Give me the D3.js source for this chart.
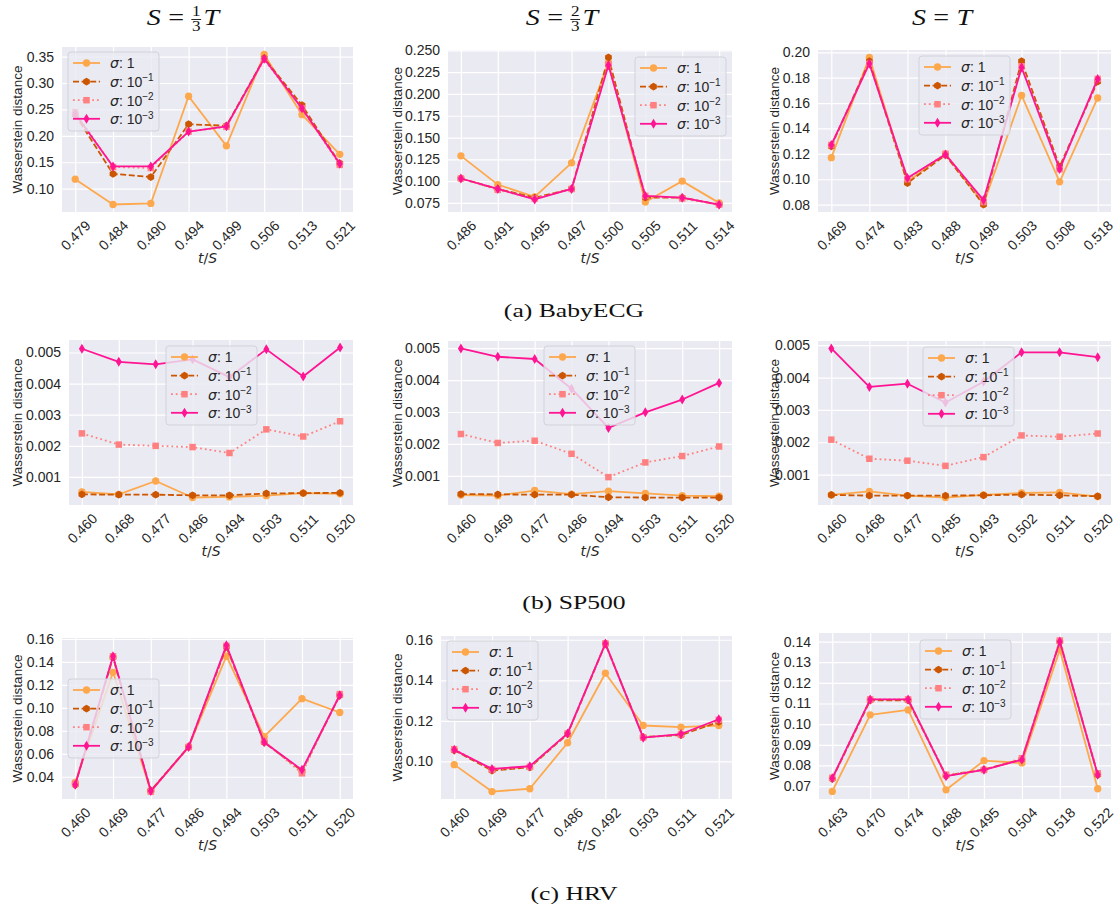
<!DOCTYPE html>
<html><head><meta charset="utf-8">
<script src="https://cdn.jsdelivr.net/npm/d3@7"></script>
<style>body{margin:0;background:#fff} svg{display:block}</style>
</head><body><svg id="c" width="1120" height="916"></svg>
<script>
// ---------- data ----------
const seriesSup = ["", "\u22121", "\u22122", "\u22123"];   // σ: 1, 10^-1, 10^-2, 10^-3
const colTitles = [["1","3"], ["2","3"], null];
const rowCaptions = ["(a) BabyECG", "(b) SP500", "(c) HRV"];

// BabyECG, S = T/3
const ecgAX = ["0.479","0.484","0.490","0.494","0.499","0.506","0.513","0.521"];
const ecgAT = ["0.10","0.15","0.20","0.25","0.30","0.35"];
const ecgAY = [
  [0.118,0.070,0.072,0.275,0.181,0.354,0.240,0.165],
  [0.240,0.128,0.122,0.222,0.219,0.347,0.258,0.148],
  [0.245,0.141,0.139,0.208,0.217,0.344,0.252,0.145],
  [0.242,0.142,0.142,0.208,0.218,0.346,0.252,0.147]];
// BabyECG, S = 2T/3
const ecgBX = ["0.486","0.491","0.495","0.497","0.500","0.505","0.511","0.514"];
const ecgBT = ["0.075","0.100","0.125","0.150","0.175","0.200","0.225","0.250"];
const ecgBY = [
  [0.129,0.096,0.082,0.121,0.236,0.076,0.100,0.075],
  [0.103,0.091,0.081,0.091,0.242,0.081,0.081,0.073],
  [0.103,0.090,0.080,0.091,0.234,0.083,0.080,0.073],
  [0.103,0.091,0.079,0.091,0.233,0.083,0.081,0.073]];
// BabyECG, S = T
const ecgCX = ["0.469","0.474","0.483","0.488","0.498","0.503","0.508","0.518"];
const ecgCT = ["0.08","0.10","0.12","0.14","0.16","0.18","0.20"];
const ecgCY = [
  [0.117,0.196,0.098,0.120,0.0805,0.166,0.098,0.164],
  [0.126,0.193,0.097,0.119,0.080,0.193,0.110,0.177],
  [0.127,0.191,0.100,0.120,0.082,0.189,0.108,0.179],
  [0.127,0.191,0.101,0.1195,0.0836,0.188,0.108,0.179]];
// SP500
const spT = ["0.001","0.002","0.003","0.004","0.005"];
const spAX = ["0.460","0.468","0.477","0.486","0.494","0.503","0.511","0.520"];
const spAY = [
  [0.00052,0.00044,0.00087,0.00034,0.00036,0.00040,0.00048,0.00046],
  [0.00044,0.00043,0.00043,0.00041,0.00041,0.00047,0.00048,0.00049],
  [0.00240,0.00204,0.00200,0.00196,0.00177,0.00253,0.00230,0.00279],
  [0.00512,0.00470,0.00462,0.00478,0.00421,0.00510,0.00423,0.00516]];
const spBX = ["0.460","0.469","0.477","0.486","0.494","0.503","0.511","0.520"];
const spBY = [
  [0.00040,0.00038,0.00054,0.00043,0.00052,0.00045,0.00038,0.00036],
  [0.00043,0.00042,0.00041,0.00041,0.00033,0.00032,0.00032,0.00032],
  [0.00231,0.00203,0.00210,0.00169,0.00096,0.00142,0.00162,0.00192],
  [0.00499,0.00473,0.00466,0.00373,0.00250,0.00299,0.00339,0.00391]];
const spCX = ["0.460","0.468","0.477","0.485","0.493","0.502","0.511","0.520"];
const spCY = [
  [0.00037,0.00048,0.00035,0.00029,0.00037,0.00043,0.00045,0.00032],
  [0.00037,0.00035,0.00035,0.00035,0.00036,0.00038,0.00036,0.00033],
  [0.00208,0.00149,0.00143,0.00127,0.00154,0.00221,0.00217,0.00227],
  [0.00490,0.00371,0.00381,0.00323,0.00387,0.00478,0.00478,0.00463]];
// HRV
const hrvAX = ["0.460","0.469","0.477","0.486","0.494","0.503","0.511","0.520"];
const hrvAT = ["0.04","0.06","0.08","0.10","0.12","0.14","0.16"];
const hrvAY = [
  [0.035,0.131,0.0275,0.066,0.145,0.075,0.108,0.096],
  [0.033,0.144,0.028,0.066,0.153,0.070,0.045,0.111],
  [0.034,0.145,0.027,0.066,0.154,0.071,0.043,0.112],
  [0.033,0.145,0.0275,0.066,0.1545,0.070,0.046,0.111]];
const hrvBX = ["0.460","0.469","0.477","0.486","0.492","0.503","0.511","0.521"];
const hrvBT = ["0.10","0.12","0.14","0.16"];
const hrvBY = [
  [0.0984,0.0851,0.0865,0.1092,0.1435,0.1177,0.1169,0.1177],
  [0.1055,0.0955,0.0970,0.1135,0.1580,0.1120,0.1130,0.1195],
  [0.1060,0.0960,0.0973,0.1138,0.1582,0.1118,0.1133,0.1205],
  [0.1057,0.0963,0.0976,0.1138,0.1581,0.1117,0.1135,0.1208]];
const hrvCX = ["0.463","0.470","0.474","0.488","0.495","0.504","0.518","0.522"];
const hrvCT = ["0.07","0.08","0.09","0.10","0.11","0.12","0.13","0.14"];
const hrvCY = [
  [0.0674,0.1045,0.1069,0.0682,0.0823,0.0812,0.1360,0.0687],
  [0.0735,0.1115,0.1115,0.0750,0.0780,0.0830,0.1400,0.0755],
  [0.0740,0.1120,0.1120,0.0755,0.0778,0.0835,0.1405,0.0762],
  [0.0738,0.1120,0.1120,0.0748,0.0779,0.0828,0.1400,0.0755]];

// ---------- layout ----------
const panels = [
  {x:ecgAX, t:ecgAT, y:ecgAY, r:[62,47,353,212],  lg:[68,52],  yl:17},
  {x:ecgBX, t:ecgBT, y:ecgBY, r:[448,50,732,212], lg:[635,57], yl:397},
  {x:ecgCX, t:ecgCT, y:ecgCY, r:[818,50,1111,212],lg:[919,56], yl:774},
  {x:spAX,  t:spT,   y:spAY,  r:[69,340,353,505], lg:[166,346],yl:17},
  {x:spBX,  t:spT,   y:spBY,  r:[448,341,732,505],lg:[544,346],yl:397},
  {x:spCX,  t:spT,   y:spCY,  r:[818,341,1111,505],lg:[923,347],yl:774},
  {x:hrvAX, t:hrvAT, y:hrvAY, r:[62,638,353,799], lg:[68,679], yl:17},
  {x:hrvBX, t:hrvBT, y:hrvBY, r:[441,636,732,799],lg:[447,641],yl:397},
  {x:hrvCX, t:hrvCT, y:hrvCY, r:[819,633,1111,799],lg:[920,640],yl:774}
];

const colors = ["#fda84c","#cc5500","#ff8080","#ff1493"];
const dashes = [null,"6,2.6","1.8,3",null];
const TXT = "#262626";
const SANS = "'Liberation Sans', Arial, sans-serif";
const SERIF = "'Liberation Serif', 'Times New Roman', serif";

function markerPath(i){
  if(i===0) return d3.symbol(d3.symbolCircle, 42)();
  if(i===1){ const r=3.9; return d3.line()(d3.range(6).map(k=>{const a=Math.PI/2+k*Math.PI/3; return [r*Math.cos(a), -r*Math.sin(a)];}))+"Z"; }
  if(i===2) return d3.symbol(d3.symbolSquare, 42)();
  return "M0,-5L3,0L0,5L-3,0Z";
}

const svg = d3.select("#c");

panels.forEach(p=>{
  const [x0,y0,x1,y1] = p.r;
  const g = svg.append("g");
  const xs = d3.scalePoint().domain(p.x).range([x0,x1]).padding(0.35);
  const [mn,mx] = d3.extent(p.y.flat());
  const pad = (mx-mn)*0.05;
  const ys = d3.scaleLinear().domain([mn-pad, mx+pad]).range([y1,y0]);

  g.append("rect").attr("x",x0).attr("y",y0).attr("width",x1-x0).attr("height",y1-y0).attr("fill","#eaeaf2");

  // y axis with grid
  const ya = g.append("g").attr("transform",`translate(${x0},0)`)
    .call(d3.axisLeft(ys).tickValues(p.t.map(Number)).tickSize(-(x1-x0)).tickPadding(8)
      .tickFormat((d,i)=>p.t[i]));
  ya.select(".domain").remove();
  ya.selectAll("line").attr("stroke","#ffffff").attr("stroke-width",1.2);
  ya.selectAll("text").attr("fill",TXT).attr("font-family",SANS).attr("font-size",14);

  // x axis with grid
  const xa = g.append("g").attr("transform",`translate(0,${y1})`)
    .call(d3.axisBottom(xs).tickSize(-(y1-y0)));
  xa.select(".domain").remove();
  xa.selectAll("line").attr("stroke","#ffffff").attr("stroke-width",1.2);
  xa.selectAll("text").attr("fill",TXT).attr("font-family",SANS).attr("font-size",14)
    .attr("y",0).attr("dy","0.35em").attr("text-anchor","middle")
    .attr("transform","translate(0,23.5) rotate(-45)");

  // axis labels
  g.append("text").attr("transform",`translate(${p.yl},${(y0+y1)/2}) rotate(-90)`)
    .attr("text-anchor","middle").attr("dy","0.35em").attr("fill",TXT)
    .attr("font-family",SANS).attr("font-size",13.5).text("Wasserstein distance");
  const xl = g.append("text").attr("x",(x0+x1)/2).attr("y",y1+51).attr("text-anchor","middle")
    .attr("fill",TXT).attr("font-family","'DejaVu Sans', sans-serif").attr("font-size",14);
  xl.append("tspan").attr("font-style","italic").text("t");
  xl.append("tspan").text("/");
  xl.append("tspan").attr("font-style","italic").text("S");

  // series
  p.y.forEach((vals,i)=>{
    const pts = p.x.map((c,j)=>[xs(c), ys(vals[j])]);
    g.append("path").attr("d",d3.line()(pts)).attr("fill","none")
      .attr("stroke",colors[i]).attr("stroke-width",1.8)
      .attr("stroke-dasharray",dashes[i]).attr("stroke-linejoin","round");
    g.append("g").selectAll("path").data(pts).join("path")
      .attr("transform",d=>`translate(${d[0]},${d[1]})`)
      .attr("d",markerPath(i)).attr("fill",colors[i]);
  });

  // legend
  const [lx,ly] = p.lg;
  const lgG = g.append("g").attr("transform",`translate(${lx},${ly})`);
  lgG.append("rect").attr("width",91).attr("height",79).attr("rx",3)
    .attr("fill","#eaeaf2").attr("fill-opacity",0.8).attr("stroke","#d2d2da").attr("stroke-width",1);
  seriesSup.forEach((s,i)=>{
    const ry = 11 + i*18.6;
    lgG.append("line").attr("x1",5).attr("x2",32).attr("y1",ry).attr("y2",ry)
      .attr("stroke",colors[i]).attr("stroke-width",1.8).attr("stroke-dasharray",dashes[i]);
    lgG.append("path").attr("transform",`translate(18.5,${ry})`).attr("d",markerPath(i)).attr("fill",colors[i]);
    const t = lgG.append("text").attr("x",42).attr("y",ry).attr("dy","0.38em")
      .attr("fill",TXT).attr("font-family",SANS).attr("font-size",14);
    t.append("tspan").attr("font-family","'DejaVu Sans', sans-serif").attr("font-style","italic").text("\u03c3");
    if(s===""){ t.append("tspan").text(": 1"); }
    else {
      t.append("tspan").text(": 10");
      t.append("tspan").attr("font-size",10).attr("dy","-0.55em").text(s);
    }
  });
});

// column titles
const titleCenters = [183, 562, 942];
titleCenters.forEach((cx,ci)=>{
  const g = svg.append("g");
  const inner = g.append("g");
  let x = 0;
  const base = 25;
  const add = (txt, italic, gap) => {
    const t = inner.append("text").attr("x",x).attr("y",base).attr("font-family",SERIF)
      .attr("font-size",23).attr("fill","#111").attr("font-style",italic?"italic":"normal").text(txt);
    x += t.node().getComputedTextLength() + gap;
  };
  add("S", true, 6);
  add("=", false, 6);
  const fr = colTitles[ci];
  if(fr){
    const w = 8;
    inner.append("text").attr("x",x+w/2).attr("y",16.5).attr("text-anchor","middle")
      .attr("font-family",SERIF).attr("font-size",14).attr("fill","#111").text(fr[0]);
    inner.append("line").attr("x1",x).attr("x2",x+w).attr("y1",19.5).attr("y2",19.5)
      .attr("stroke","#111").attr("stroke-width",0.9);
    inner.append("text").attr("x",x+w/2).attr("y",31.5).attr("text-anchor","middle")
      .attr("font-family",SERIF).attr("font-size",14).attr("fill","#111").text(fr[1]);
    x += w + 2;
  }
  add("T", true, 0);
  const sc = 1.22;
  inner.attr("transform",`translate(${cx - x*sc/2},0) scale(${sc},1)`);
});

// row captions
const captionBaselines = [317, 609, 900];
rowCaptions.forEach((c,i)=>{
  const sc = 1.35;
  svg.append("text").attr("transform",`translate(574,${captionBaselines[i]}) scale(${sc},1)`)
    .attr("text-anchor","middle").attr("font-family",SERIF).attr("font-size",19)
    .attr("fill","#111").text(c);
});
</script>
</body></html>
